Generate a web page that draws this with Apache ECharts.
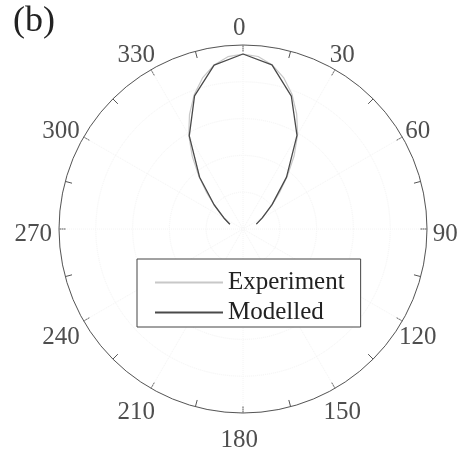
<!DOCTYPE html>
<html>
<head>
<meta charset="utf-8">
<script src="https://cdn.jsdelivr.net/npm/echarts@6/dist/echarts.min.js"></script>
<style>
  html, body { margin: 0; padding: 0; background: #ffffff; }
  #chart { width: 473px; height: 455px; }
</style>
</head>
<body>
<div id="chart"></div>
<script>
// Normalised radiation lobe, angle in degrees (0 = up, clockwise)
const modelAngles = [-70, -60, -50, -40, -30, -20, -10, 0, 10, 20, 30, 40, 50, 60, 70];
const modelValues = [0.076, 0.120, 0.205, 0.367, 0.584, 0.770, 0.904, 0.951, 0.906, 0.768, 0.587, 0.368, 0.206, 0.121, 0.077];

const expAngles = [-70, -65, -60, -55, -50, -45, -40, -35, -30, -25, -20, -15, -10, -5, 0,
                   5, 10, 15, 20, 25, 30, 35, 40, 45, 50, 55, 60, 65, 70];
const expValues = [0.075, 0.093, 0.118, 0.153, 0.207, 0.279, 0.372, 0.480, 0.590, 0.688, 0.776, 0.850, 0.905, 0.940, 0.950,
                   0.941, 0.907, 0.852, 0.779, 0.690, 0.594, 0.484, 0.374, 0.281, 0.208, 0.155, 0.120, 0.094, 0.077];

const tickAngles = [0, 30, 60, 90, 120, 150, 180, 210, 240, 270, 300, 330];
const tickLabels = ['0', '30', '60', '90', '120', '150', '180', '210', '240', '270', '300', '330'];

const seriesNames = ['Experiment', 'Modelled'];

const FONT = '"Liberation Serif", "Times New Roman", serif';
const wrap = a => (a < 0 ? a + 360 : a);
const toPolar = (angles, values) => angles.map((a, i) => [values[i], wrap(a)]);

const chart = echarts.init(document.getElementById('chart'), null, { renderer: 'canvas' });

chart.setOption({
  backgroundColor: '#ffffff',
  animation: false,
  title: {
    text: '(b)',
    left: 13,
    top: 4,
    padding: 0,
    textStyle: { fontFamily: FONT, fontSize: 36, fontWeight: 'normal', color: '#222' }
  },
  polar: [
    { center: [243, 229], radius: 184 },
    { center: [239.3, 234], radius: 206 }
  ],
  angleAxis: [
    {
      polarIndex: 0,
      type: 'value',
      min: 0,
      max: 360,
      interval: 30,
      startAngle: 90,
      clockwise: true,
      axisLine: { show: true, lineStyle: { color: '#555', width: 1 } },
      axisTick: { show: true, inside: true, length: 7, lineStyle: { color: '#555', width: 1 } },
      minorTick: { show: true, splitNumber: 2, length: 7, lineStyle: { color: '#555', width: 1 } },
      axisLabel: { show: false },
      splitLine: { show: true, lineStyle: { color: '#f4f4f4', width: 1, type: 'dotted' } }
    },
    {
      polarIndex: 1,
      type: 'value',
      min: 0,
      max: 360,
      startAngle: 90,
      clockwise: true,
      axisLine: { show: false },
      axisTick: { show: false },
      axisLabel: { show: false },
      splitLine: { show: false }
    }
  ],
  radiusAxis: [
    {
      polarIndex: 0,
      type: 'value',
      min: 0,
      max: 1,
      interval: 0.2,
      axisLine: { show: false },
      axisTick: { show: false },
      axisLabel: { show: false },
      splitLine: { show: true, lineStyle: { color: '#f4f4f4', width: 1, type: 'dotted' } }
    },
    {
      polarIndex: 1,
      type: 'value',
      min: 0,
      max: 1,
      axisLine: { show: false },
      axisTick: { show: false },
      axisLabel: { show: false },
      splitLine: { show: false }
    }
  ],
  legend: {
    data: seriesNames,
    orient: 'vertical',
    left: 137,
    top: 259,
    padding: [11, 16, 2, 17],
    itemGap: 5,
    itemWidth: 68,
    itemHeight: 14,
    itemStyle: { opacity: 0 },
    backgroundColor: '#ffffff',
    borderColor: '#444',
    borderWidth: 1,
    borderRadius: 0,
    textStyle: { fontFamily: FONT, fontSize: 25, color: '#222' }
  },
  series: [
    {
      name: seriesNames[0],
      type: 'line',
      coordinateSystem: 'polar',
      polarIndex: 0,
      symbol: 'none',
      z: 2,
      lineStyle: { color: '#c8c8c8', width: 1.2 },
      itemStyle: { color: '#c8c8c8' },
      data: toPolar(expAngles, expValues)
    },
    {
      name: seriesNames[1],
      type: 'line',
      coordinateSystem: 'polar',
      polarIndex: 0,
      symbol: 'none',
      z: 3,
      lineStyle: { color: '#4a4a4a', width: 1.3 },
      itemStyle: { color: '#4a4a4a' },
      data: toPolar(modelAngles, modelValues)
    },
    {
      // angular tick labels, set on the outer ring
      name: 'angleLabels',
      type: 'scatter',
      coordinateSystem: 'polar',
      polarIndex: 1,
      symbolSize: 0,
      clip: false,
      silent: true,
      label: {
        show: true,
        position: 'inside',
        formatter: p => p.name,
        fontFamily: FONT,
        fontSize: 25,
        color: '#222'
      },
      data: tickAngles.map((a, i) => ({ name: tickLabels[i], value: [1, a] }))
    }
  ]
});
</script>
</body>
</html>
